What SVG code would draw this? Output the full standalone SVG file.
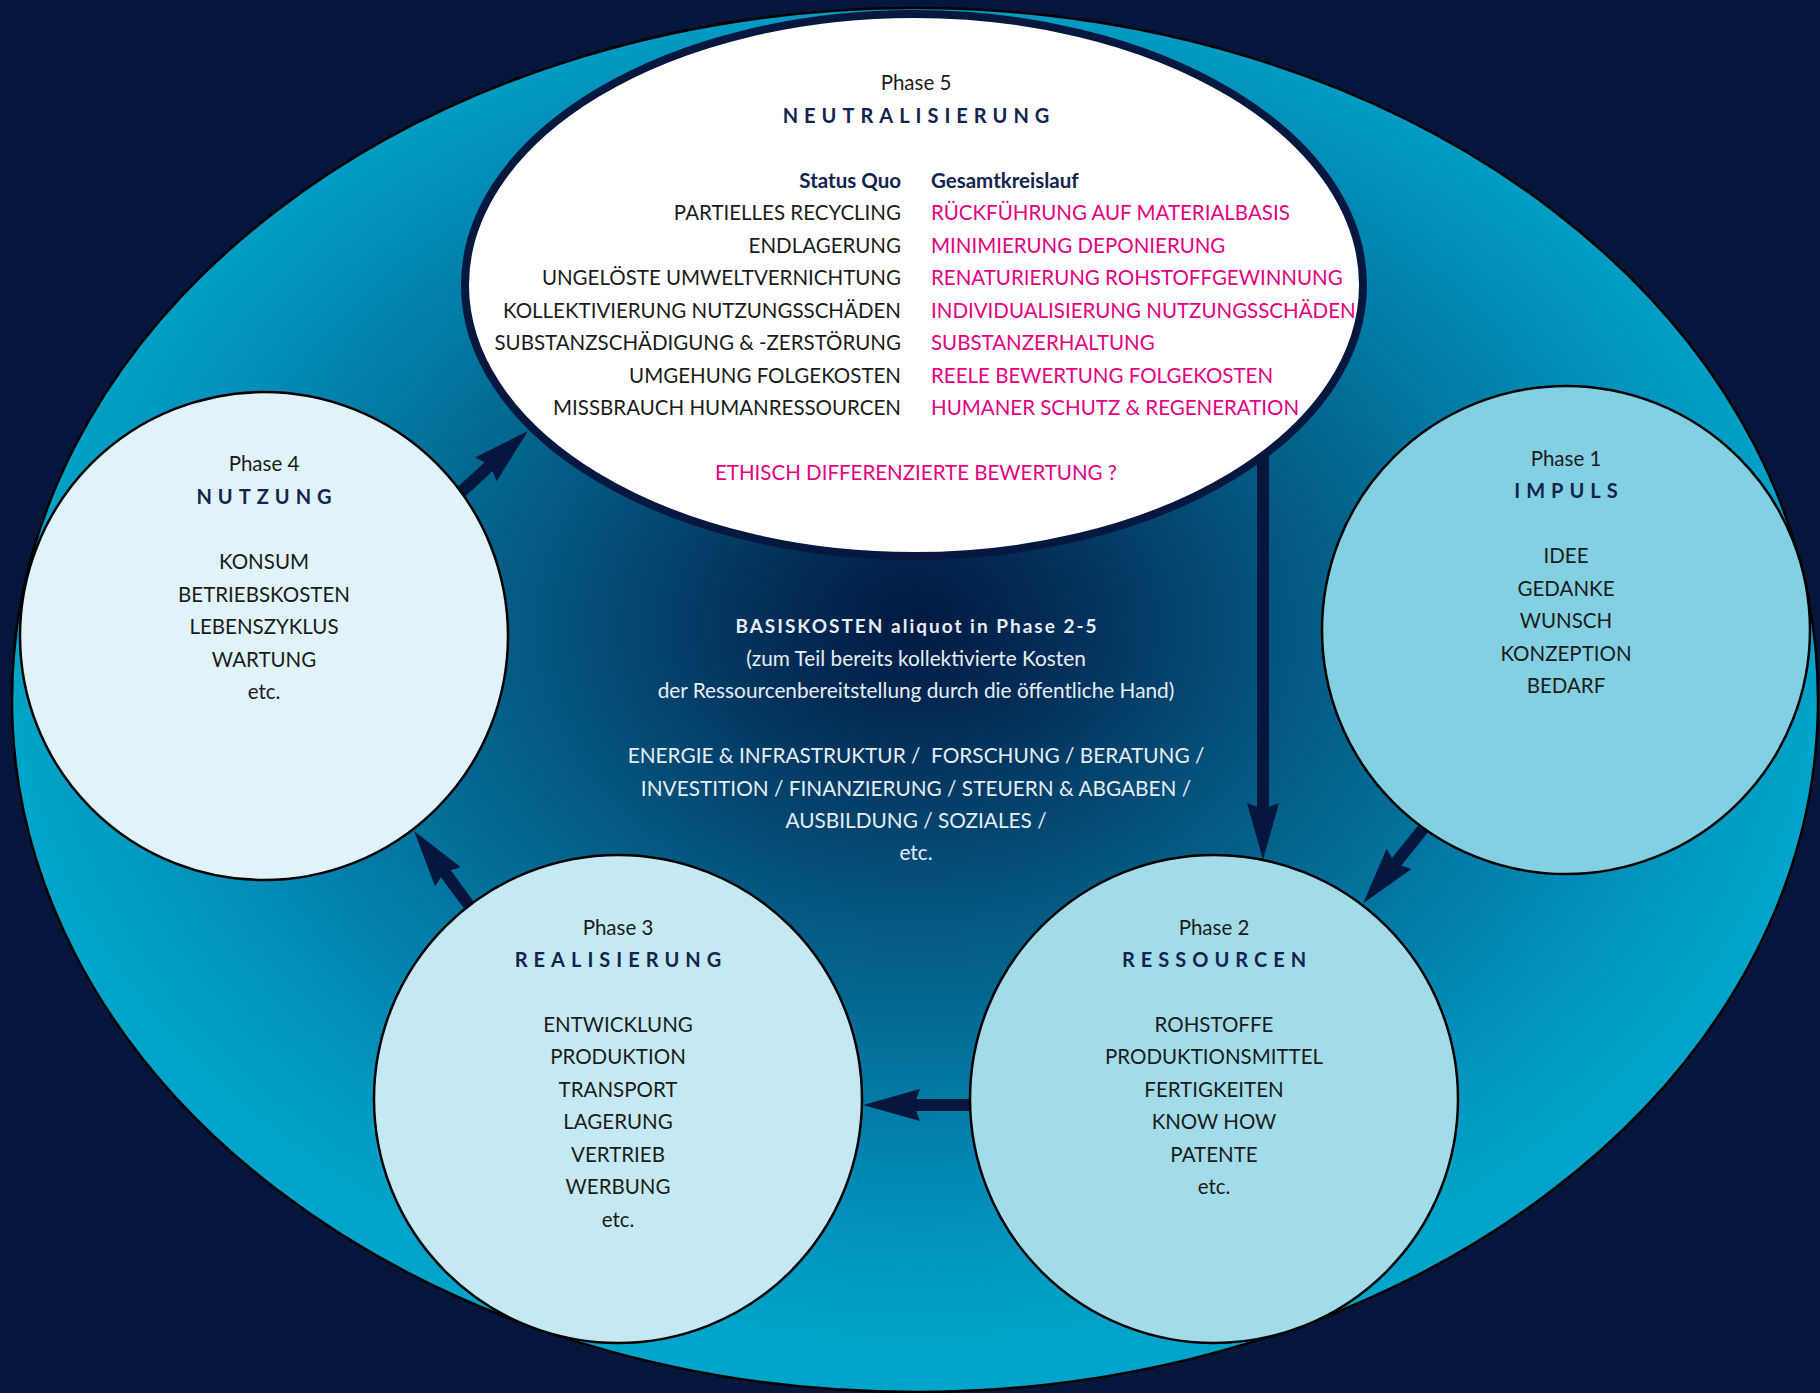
<svg xmlns="http://www.w3.org/2000/svg" width="1820" height="1393" viewBox="0 0 1820 1393">
<defs>
<radialGradient id="bg" cx="0.5" cy="0.46" r="0.5" fx="0.5" fy="0.44">
<stop offset="0" stop-color="#021a42"/>
<stop offset="0.15" stop-color="#032c56"/>
<stop offset="0.4" stop-color="#04557e"/>
<stop offset="0.7" stop-color="#027ea8"/>
<stop offset="0.9" stop-color="#0298c1"/>
<stop offset="1" stop-color="#00a3c9"/>
</radialGradient>
<marker id="ah" markerUnits="userSpaceOnUse" markerWidth="60" markerHeight="36" viewBox="0 -18 60 36" refX="7" refY="0" orient="auto">
<path d="M0,-16 L57,0 L0,16 L6,0 Z" fill="#06173d"/>
</marker>
</defs>
<style>
.t{font-family:Lato,"Open Sans","Liberation Sans",sans-serif;font-size:20.5px;fill:#1b1b1b;text-anchor:middle}
.h{font-family:Lato,"Open Sans","Liberation Sans",sans-serif;font-size:20px;font-weight:bold;fill:#13244f;letter-spacing:6px;text-anchor:middle}
.r{text-anchor:end}
.l{text-anchor:start}
.b{font-weight:bold;fill:#13244f}
.p{fill:#e4007f}
.w{fill:#e6eef4;font-size:20.8px}
.node{stroke:#000;stroke-width:2.5}
.con{stroke:#06173d;stroke-width:12;fill:none;marker-end:url(#ah)}
</style>
<rect width="1820" height="1393" fill="#04163c"/>
<ellipse cx="915" cy="700" rx="903" ry="692" fill="url(#bg)" stroke="#000" stroke-width="2.5"/>

<g id="connectors">
<line class="con" x1="1263" y1="440" x2="1263" y2="810"/>
<line class="con" x1="1440" y1="808" x2="1394.6" y2="864.3"/>
<line class="con" x1="990" y1="1105" x2="913" y2="1105"/>
<line class="con" x1="480" y1="920" x2="443.8" y2="871.1"/>
<line class="con" x1="450" y1="502" x2="491" y2="464.6"/>
</g>

<g id="phase5">
<ellipse cx="914" cy="285" rx="449" ry="271" fill="#fff" stroke="#06183f" stroke-width="8"/>
<text class="t" x="916" y="90">Phase 5</text>
<text class="h" x="919" y="123">NEUTRALISIERUNG</text>
<text class="t r b" x="901" y="188">Status Quo</text>
<text class="t l b" x="931" y="188">Gesamtkreislauf</text>
<text class="t r" x="901" y="220">PARTIELLES RECYCLING</text>
<text class="t r" x="901" y="253">ENDLAGERUNG</text>
<text class="t r" x="901" y="285">UNGELÖSTE UMWELTVERNICHTUNG</text>
<text class="t r" x="901" y="318">KOLLEKTIVIERUNG NUTZUNGSSCHÄDEN</text>
<text class="t r" x="901" y="350">SUBSTANZSCHÄDIGUNG &amp; -ZERSTÖRUNG</text>
<text class="t r" x="901" y="383">UMGEHUNG FOLGEKOSTEN</text>
<text class="t r" x="901" y="415">MISSBRAUCH HUMANRESSOURCEN</text>
<text class="t l p" x="931" y="220">RÜCKFÜHRUNG AUF MATERIALBASIS</text>
<text class="t l p" x="931" y="253">MINIMIERUNG DEPONIERUNG</text>
<text class="t l p" x="931" y="285">RENATURIERUNG ROHSTOFFGEWINNUNG</text>
<text class="t l p" x="931" y="318">INDIVIDUALISIERUNG NUTZUNGSSCHÄDEN</text>
<text class="t l p" x="931" y="350">SUBSTANZERHALTUNG</text>
<text class="t l p" x="931" y="383">REELE BEWERTUNG FOLGEKOSTEN</text>
<text class="t l p" x="931" y="415">HUMANER SCHUTZ &amp; REGENERATION</text>
<text class="t p" x="916" y="480">ETHISCH DIFFERENZIERTE BEWERTUNG ?</text>
</g>

<g id="phase4">
<circle class="node" cx="264" cy="636" r="244" fill="#dff3f8"/>
<text class="t" x="264" y="471">Phase 4</text>
<text class="h" x="267" y="504">NUTZUNG</text>
<text class="t" x="264" y="569">KONSUM</text>
<text class="t" x="264" y="602">BETRIEBSKOSTEN</text>
<text class="t" x="264" y="634">LEBENSZYKLUS</text>
<text class="t" x="264" y="667">WARTUNG</text>
<text class="t" x="264" y="699">etc.</text>
</g>

<g id="phase1">
<circle class="node" cx="1566" cy="630" r="244" fill="#83d0e3"/>
<text class="t" x="1566" y="466">Phase 1</text>
<text class="h" x="1569" y="498">IMPULS</text>
<text class="t" x="1566" y="563">IDEE</text>
<text class="t" x="1566" y="596">GEDANKE</text>
<text class="t" x="1566" y="628">WUNSCH</text>
<text class="t" x="1566" y="661">KONZEPTION</text>
<text class="t" x="1566" y="693">BEDARF</text>
</g>

<g id="phase3">
<circle class="node" cx="618" cy="1099" r="244" fill="#c4e9f2"/>
<text class="t" x="618" y="935">Phase 3</text>
<text class="h" x="621" y="967">REALISIERUNG</text>
<text class="t" x="618" y="1032">ENTWICKLUNG</text>
<text class="t" x="618" y="1064">PRODUKTION</text>
<text class="t" x="618" y="1097">TRANSPORT</text>
<text class="t" x="618" y="1129">LAGERUNG</text>
<text class="t" x="618" y="1162">VERTRIEB</text>
<text class="t" x="618" y="1194">WERBUNG</text>
<text class="t" x="618" y="1227">etc.</text>
</g>

<g id="phase2">
<circle class="node" cx="1214" cy="1099" r="244" fill="#a2dce9"/>
<text class="t" x="1214" y="935">Phase 2</text>
<text class="h" x="1217" y="967">RESSOURCEN</text>
<text class="t" x="1214" y="1032">ROHSTOFFE</text>
<text class="t" x="1214" y="1064">PRODUKTIONSMITTEL</text>
<text class="t" x="1214" y="1097">FERTIGKEITEN</text>
<text class="t" x="1214" y="1129">KNOW HOW</text>
<text class="t" x="1214" y="1162">PATENTE</text>
<text class="t" x="1214" y="1194">etc.</text>
</g>

<g id="basiskosten">
<text class="t w" x="917" y="633" style="font-weight:bold;font-size:19px;letter-spacing:2px">BASISKOSTEN aliquot in Phase 2-5</text>
<text class="t w" x="916" y="666">(zum Teil bereits kollektivierte Kosten</text>
<text class="t w" x="916" y="698">der Ressourcenbereitstellung durch die öffentliche Hand)</text>
<text class="t w" x="916" y="763" xml:space="preserve">ENERGIE &amp; INFRASTRUKTUR /  FORSCHUNG / BERATUNG /</text>
<text class="t w" x="916" y="796">INVESTITION / FINANZIERUNG / STEUERN &amp; ABGABEN /</text>
<text class="t w" x="916" y="828">AUSBILDUNG / SOZIALES /</text>
<text class="t w" x="916" y="860">etc.</text>
</g>
</svg>
